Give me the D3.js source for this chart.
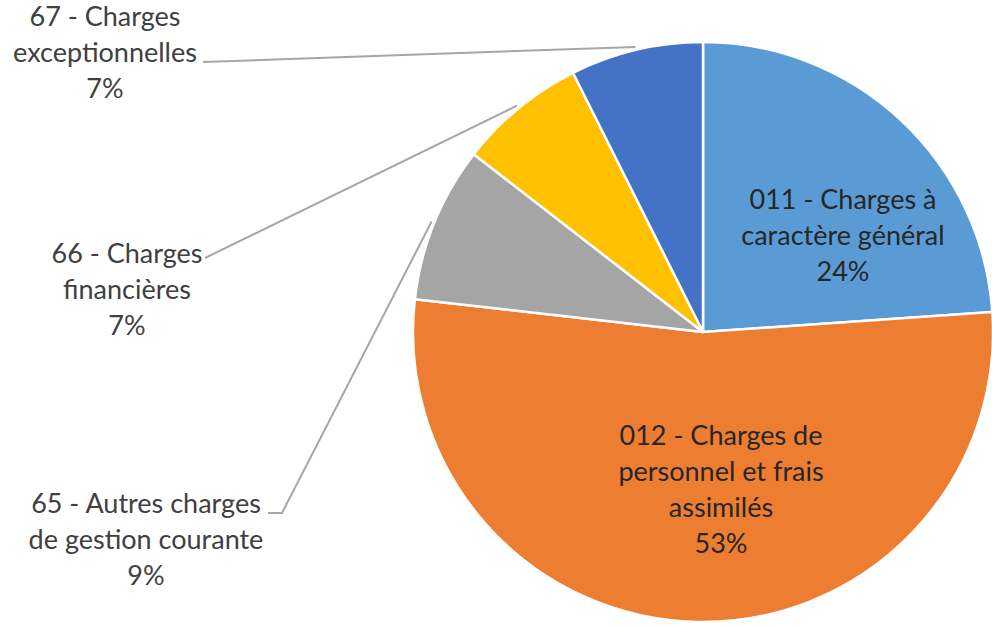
<!DOCTYPE html>
<html>
<head>
<meta charset="utf-8">
<script src="https://d3js.org/d3.v7.min.js"></script>
<style>
  body { margin: 0; background: #fff; }
  text { font-family: Lato, "Open Sans", sans-serif; }
</style>
</head>
<body>
<svg id="chart" width="992" height="627"></svg>
<script>
// data
const categories = [
  ["011 - Charges à", "caractère général"],
  ["012 - Charges de", "personnel et frais", "assimilés"],
  ["65 - Autres charges", "de gestion courante"],
  ["66 - Charges", "financières"],
  ["67 - Charges", "exceptionnelles"]
];
const values = [23.9, 52.9, 8.7, 7.1, 7.4];
const percentLabels = ["24%", "53%", "9%", "7%", "7%"];
const colors = ["#5B9BD5", "#ED7D31", "#A5A5A5", "#FFC000", "#4472C4"];

// label placement (layout only)
const labelPos = [
  { x: 843, y: 236, inside: true },
  { x: 721, y: 490, inside: true },
  { x: 146, y: 540, inside: false, lx: 268, ly: 513, elbow: 282 },
  { x: 127, y: 290, inside: false, lx: 205, ly: 258 },
  { x: 105, y: 53, inside: false, lx: 203, ly: 62 }
];

const cx = 703, cy = 332, r = 290;
const fontSize = 27, lineH = 36;

const data = values.map((v, i) => ({ value: v, name: categories[i], pct: percentLabels[i], color: colors[i], pos: labelPos[i] }));

const svg = d3.select("#chart");
const g = svg.append("g").attr("transform", `translate(${cx},${cy})`);

const pie = d3.pie().value(d => d.value).sort(null);
const arc = d3.arc().innerRadius(0).outerRadius(r);
const outer = d3.arc().innerRadius(r + 3).outerRadius(r + 3);

const arcs = pie(data);

g.selectAll("path.slice")
  .data(arcs)
  .join("path")
  .attr("class", "slice")
  .attr("d", arc)
  .attr("fill", d => d.data.color)
  .attr("stroke", "#fff")
  .attr("stroke-width", 2.5)
  .attr("stroke-linejoin", "round");

// leader lines for outside labels
const lines = arcs.filter(d => !d.data.pos.inside);
svg.selectAll("polyline.leader")
  .data(lines)
  .join("polyline")
  .attr("class", "leader")
  .attr("fill", "none")
  .attr("stroke", "#A6A6A6")
  .attr("stroke-width", 2)
  .attr("points", d => {
    const p = d.data.pos;
    const c = outer.centroid(d);
    const pts = [[p.lx, p.ly]];
    if (p.elbow) pts.push([p.elbow, p.ly]);
    pts.push([cx + c[0], cy + c[1]]);
    return pts.map(q => q.join(",")).join(" ");
  });

// labels
const labels = svg.selectAll("text.lbl")
  .data(data)
  .join("text")
  .attr("class", "lbl")
  .attr("text-anchor", "middle")
  .attr("font-size", fontSize)
  .attr("fill", d => d.pos.inside ? "#262626" : "#404040");

labels.each(function(d) {
  const rows = d.name.concat([d.pct]);
  const top = d.pos.y - (rows.length - 1) * lineH / 2;
  d3.select(this).selectAll("tspan")
    .data(rows)
    .join("tspan")
    .attr("x", d.pos.x)
    .attr("y", (t, i) => top + i * lineH)
    .attr("dy", "0.35em")
    .text(t => t);
});
</script>
</body>
</html>
